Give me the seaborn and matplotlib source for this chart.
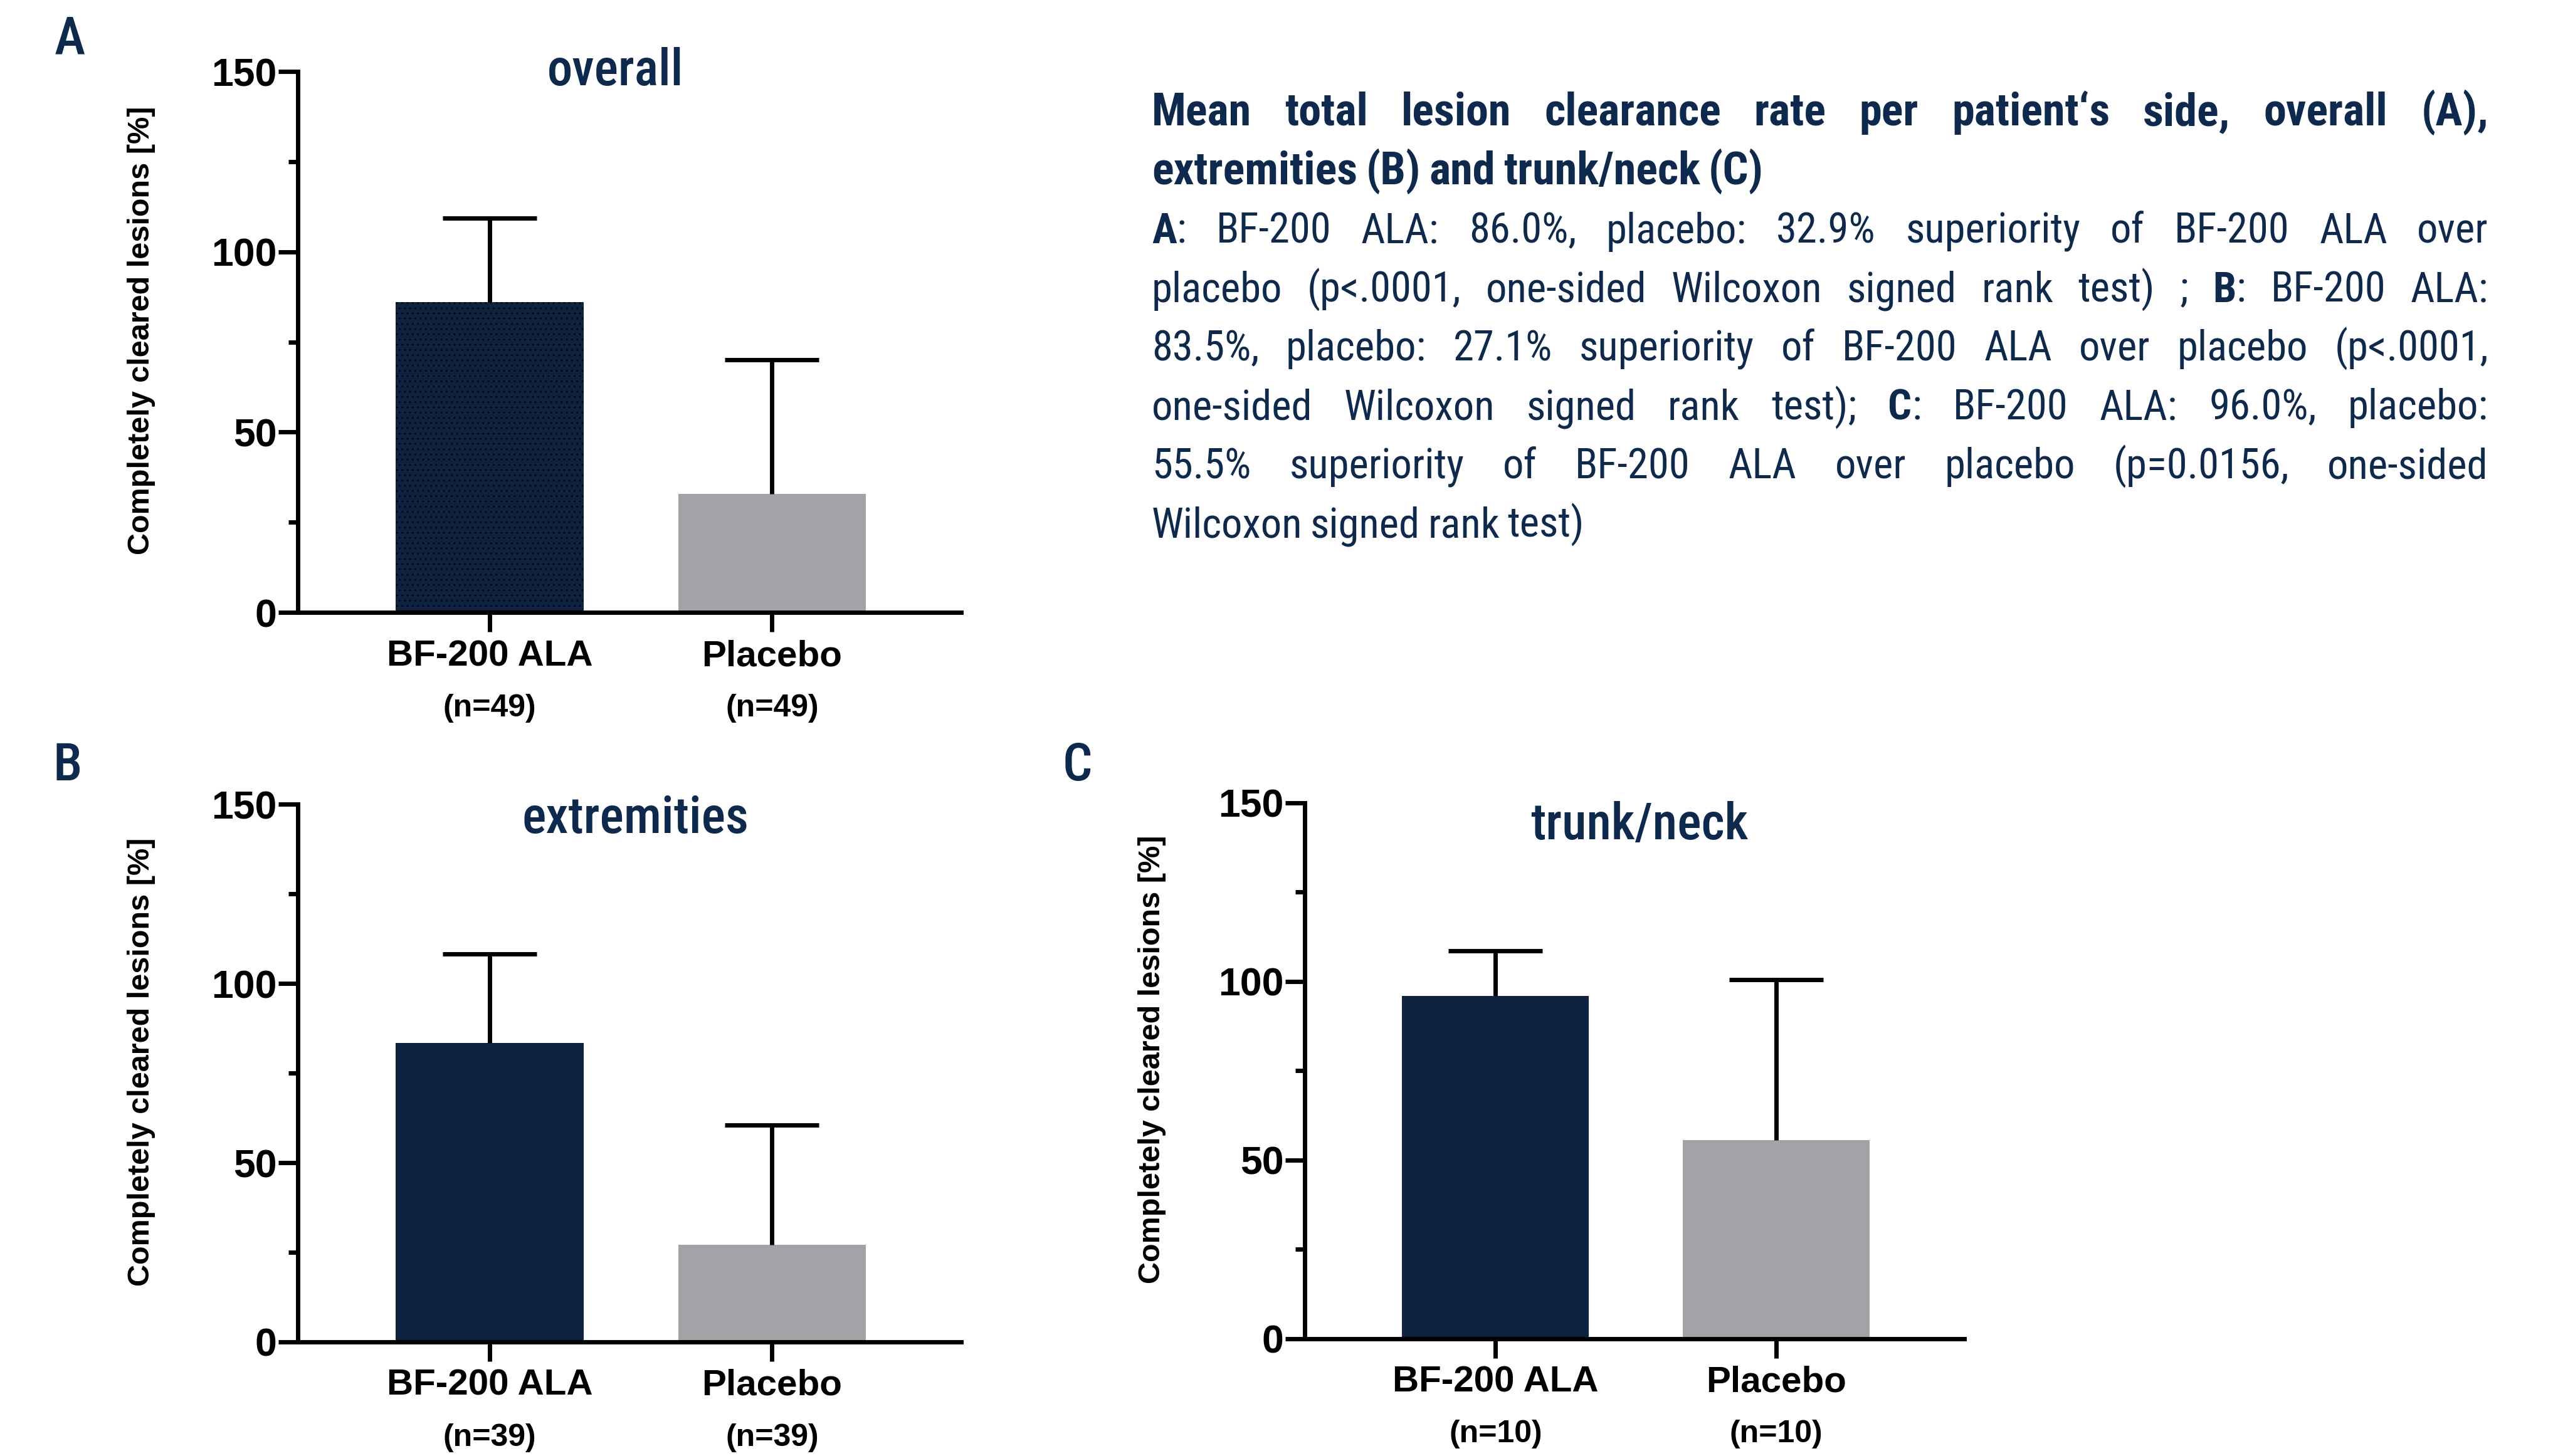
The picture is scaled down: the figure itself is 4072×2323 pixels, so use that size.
import numpy as np
import pandas as pd
import matplotlib
matplotlib.use("Agg")
import matplotlib.pyplot as plt
import seaborn as sns
from matplotlib import font_manager as fm
from matplotlib.ticker import MultipleLocator, FixedLocator

# ---------------- data ----------------
categories = ["BF-200 ALA", "Placebo"]
n_A = [49, 49]
n_B = [39, 39]
n_C = [10, 10]
mean_A = [86.0, 32.9]
sd_A = [23.3, 37.1]
mean_B = [83.5, 27.1]
sd_B = [24.8, 33.4]
mean_C = [96.0, 55.5]
sd_C = [12.6, 45.0]
panel_titles = ["overall", "extremities", "trunk/neck"]
panel_letters = ["A", "B", "C"]
y_ticks = [0, 50, 100, 150]
y_label = "Completely cleared lesions [%]"

header_lines = [
    ([("Mean total lesion clearance rate per patient\u2018s side, overall (A),", True)], True),
    ([("extremities (B) and trunk/neck (C)", True)], False),
]
body_lines = [
    ([("A", True), (": BF-200 ALA: 86.0%, placebo: 32.9%  superiority of BF-200 ALA over", False)], True),
    ([("placebo (p<.0001, one-sided Wilcoxon signed rank test) ; ", False), ("B", True), (": BF-200 ALA:", False)], True),
    ([("83.5%, placebo: 27.1%  superiority of BF-200 ALA over placebo (p<.0001,", False)], True),
    ([("one-sided Wilcoxon signed rank test); ", False), ("C", True), (": BF-200 ALA: 96.0%, placebo:", False)], True),
    ([("55.5%   superiority of BF-200 ALA over placebo (p=0.0156, one-sided", False)], True),
    ([("Wilcoxon signed rank test)", False)], False),
]

# ---------------- style ----------------
NAVY = "#0f2340"
GRAY = "#a3a3a7"
TEXT_NAVY = "#0d2a4e"

sns.set_theme(style="ticks")
names = {f.name for f in fm.fontManager.ttflist}


def pick(cands, default):
    for c in cands:
        if c in names:
            return c
    return default


COND = pick(["Roboto Condensed", "Liberation Sans Narrow", "Open Sans Condensed",
             "DejaVu Sans Condensed"], "Roboto")
ARIAL = pick(["Liberation Sans", "Arial"], "DejaVu Sans")
plt.rcParams["font.family"] = [ARIAL, "DejaVu Sans"]
plt.rcParams["hatch.linewidth"] = 1.0

FW_PX, FH_PX = 4073, 2323
fig = plt.figure(figsize=(FW_PX / 100, FH_PX / 100), dpi=100)
fig.patch.set_facecolor("white")

rects = [
    [0.1166, 0.5794, 0.2598, 0.3715],
    [0.1166, 0.0784, 0.2598, 0.3691],
    [0.5109, 0.0807, 0.2583, 0.3679],
]
title_pos = [(0.479, 1.0), (0.509, 0.972), (0.507, 0.958)]
ylabel_x = [-0.214, -0.214, -0.21]
letter_pos = [(111, 63), (108, 1222), (1718, 1222)]
means_all = [mean_A, mean_B, mean_C]
sds_all = [sd_A, sd_B, sd_C]
ns_all = [n_A, n_B, n_C]

LW = 5
for k in range(3):
    ax = fig.add_axes(rects[k])
    ax.set_facecolor("white")
    df = pd.DataFrame({"group": categories, "mean": means_all[k]})
    sns.barplot(data=df, x="group", y="mean", hue="group",
                palette=[NAVY, GRAY], legend=False, width=0.665,
                errorbar=None, linewidth=0, saturation=1, ax=ax, zorder=2)
    if k == 0:
        p = ax.patches[0]
        p.set_hatch("..")
        p.set_edgecolor("#01070f")
        p.set_linewidth(0)
    eb = ax.errorbar(np.arange(len(categories)), means_all[k],
                     yerr=[np.zeros(len(categories)), sds_all[k]],
                     fmt="none", ecolor="black", elinewidth=LW,
                     capsize=54, capthick=LW, zorder=3)
    if len(eb[1]) > 1:
        eb[1][0].set_visible(False)

    ax.set_ylim(0, 150)
    ax.set_xlim(-0.68, 1.67)
    ax.yaxis.set_major_locator(FixedLocator(y_ticks))
    ax.yaxis.set_minor_locator(MultipleLocator(25))
    for s in ["top", "right"]:
        ax.spines[s].set_visible(False)
    for s in ["left", "bottom"]:
        ax.spines[s].set_linewidth(LW)
        ax.spines[s].set_color("black")
    ax.tick_params(axis="y", which="major", length=22, width=LW, pad=2,
                   labelsize=45, colors="black")
    ax.tick_params(axis="y", which="minor", length=11, width=LW, colors="black")
    ax.tick_params(axis="x", which="major", length=22, width=LW, pad=9,
                   labelsize=42, colors="black")
    for lbl in ax.get_yticklabels() + ax.get_xticklabels():
        lbl.set_fontweight("bold")
        lbl.set_family(ARIAL)
    ax.set_xlabel("")
    ax.set_ylabel(y_label, fontsize=35, fontweight="bold", family=ARIAL, color="black")
    ax.yaxis.set_label_coords(ylabel_x[k], 0.521)

    for i, n in enumerate(ns_all[k]):
        ax.annotate(f"(n={n})", xy=(i, 0), xycoords=("data", "axes fraction"),
                    xytext=(0, -110), textcoords="offset points",
                    ha="center", va="center", fontsize=36, fontweight="bold",
                    family=ARIAL, color="black", annotation_clip=False)

    ax.text(title_pos[k][0], title_pos[k][1], panel_titles[k], transform=ax.transAxes,
            ha="center", va="center", fontsize=58, fontweight="medium",
            family=COND, color=TEXT_NAVY)
    lx, ly = letter_pos[k]
    fig.text(lx / FW_PX, 1 - ly / FH_PX, panel_letters[k], ha="center", va="center",
             fontsize=60, fontweight="medium", family=COND, color=TEXT_NAVY)

# ---------------- justified text block ----------------
renderer = fig.canvas.get_renderer()
BODY_W = "normal"


def wt(bold):
    return "bold" if bold else BODY_W


def measure(s, bold, size):
    t = fig.text(0, 0, s, fontsize=size, family=COND, fontweight=wt(bold))
    w = t.get_window_extent(renderer=renderer).width
    t.remove()
    return w


def split_words(runs):
    words, cur = [], []
    for txt, bold in runs:
        parts = txt.split(" ")
        for i, p in enumerate(parts):
            if i > 0 and cur:
                words.append(cur)
                cur = []
            if p:
                cur.append((p, bold))
    if cur:
        words.append(cur)
    return words


X0, X1 = 1837, 3969


def fit_size(lines, base):
    sp = measure("a a", False, base) - measure("aa", False, base)
    mr = 0
    for runs, just in lines:
        words = split_words(runs)
        tot = sum(measure(t, b, base) for w in words for t, b in w)
        tot += sp * (len(words) - 1)
        mr = max(mr, tot / (X1 - X0))
    return base / max(1.0, mr * 1.005)


def draw_lines(lines, baselines, size):
    space_w = {b: measure("a a", b, size) - measure("aa", b, size) for b in (False, True)}
    for (runs, just), yb in zip(lines, baselines):
        words = split_words(runs)
        seg_w = [[measure(t, b, size) for t, b in w] for w in words]
        total = sum(sum(s) for s in seg_w)
        ng = len(words) - 1
        if just and ng > 0:
            gap = (X1 - X0 - total) / ng
        else:
            gap = space_w[words[0][0][1]] * 0.8
        x = X0
        for w, sw in zip(words, seg_w):
            for (t, b), wpx in zip(w, sw):
                fig.text(x / FW_PX, 1 - yb / FH_PX, t, ha="left", va="baseline",
                         fontsize=size, family=COND, fontweight=wt(b),
                         color=TEXT_NAVY)
                x += wpx
            x += gap


LINE_STEP = 93.86
head_base = [200 + LINE_STEP * i for i in range(len(header_lines))]
body_base = [200 + LINE_STEP * (i + len(header_lines)) for i in range(len(body_lines))]
draw_lines(header_lines, head_base, fit_size(header_lines, 52.0))
draw_lines(body_lines, body_base, fit_size(body_lines, 48.0))

fig.savefig("out.png", dpi=100, facecolor="white")
